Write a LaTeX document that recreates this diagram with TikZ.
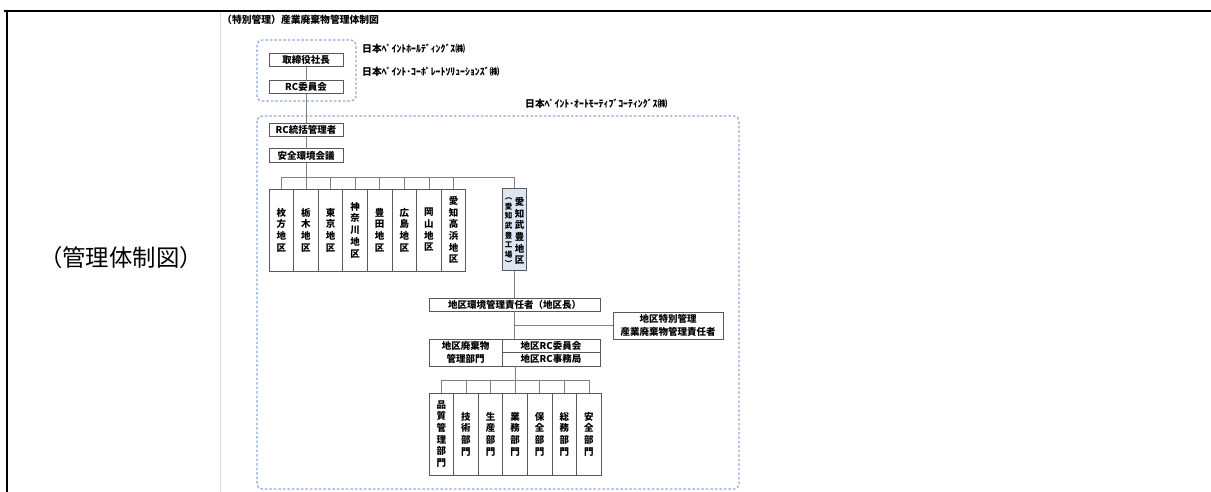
\documentclass[tikz,border=0pt]{standalone}
\usepackage{fontspec}
\newfontfamily\jp{Noto Sans CJK JP}
\usetikzlibrary{positioning}
\definecolor{grpblue}{RGB}{142,169,219}
\definecolor{boxgray}{RGB}{89,89,89}
\definecolor{linegray}{RGB}{128,128,128}
\definecolor{aichiblue}{RGB}{220,230,242}

\begin{document}
\begin{tikzpicture}[x=1pt, y=-1pt,
        box/.style = {draw=boxgray, line width=0.8pt, inner sep=0pt, minimum height=13.5pt, align=center,
                      font={\jp\bfseries\fontsize{9.5}{13.5}\selectfont}},
        vbox/.style = {draw=boxgray, line width=0.8pt, inner sep=0pt, minimum width=24.6pt, minimum height=82pt, align=center,
                       font={\jp\bfseries\fontsize{9.5}{11.7}\selectfont}},
        group/.style = {draw=grpblue, line width=1.3pt, dash pattern=on 2.5pt off 2pt, rounded corners=5pt},
        link/.style = {draw=linegray, line width=0.8pt},
        corp/.style = {anchor=west, inner sep=0pt, font={\jp\bfseries\fontsize{9.8}{11}\selectfont}}
        ]
        \useasboundingbox (0,0) rectangle (1211,492);

        % frame of the table cell
        \draw[gray!30, line width=0.8pt] (220.5,11) -- (220.5,492);
        \draw[black, line width=2.3pt] (4,11) -- (1211,11);
        \draw[black, line width=2.3pt] (7,10) -- (7,492);
        \node (caption) at (121,258) {\jp\fontsize{23.4}{26}\selectfont （管理体制図）};
        \node[corp] (title) at (222,20) {（特別管理）産業廃棄物管理体制図};

        % groups
        \draw[group] (257,40) rectangle (356,101);
        \draw[group] (257,116) rectangle (739,489);
        \node[corp] (hd) at (362,49) {日本ﾍﾟｲﾝﾄﾎｰﾙﾃﾞｨﾝｸﾞｽ㈱};
        \node[corp] (cs) at (362,72) {日本ﾍﾟｲﾝﾄ･ｺｰﾎﾟﾚｰﾄｿﾘｭｰｼｮﾝｽﾞ㈱};
        \node[corp] (aoc) at (525,104) {日本ﾍﾟｲﾝﾄ･ｵｰﾄﾓｰﾃｨﾌﾞｺｰﾃｨﾝｸﾞｽ㈱};

        \node[box, minimum width=74pt] (ceo) at (306,60) {取締役社長};
        \node[box, minimum width=74pt] (rc) at (306,87) {RC委員会};
        \node[box, minimum width=74pt] (rcmgr) at (306,130) {RC統括管理者};
        \node[box, minimum width=74pt] (safety) at (306,155.5) {安全環境会議};
        \coordinate (bus1) at (306,177);

        % districts
        \node[vbox] (hirakata) at (281.3,230) {枚\\方\\地\\区};
        \node[vbox] (tochigi) at (305.9,230) {栃\\木\\地\\区};
        \node[vbox] (tokyo) at (330.5,230) {東\\京\\地\\区};
        \node[vbox] (kanagawa) at (355.1,230) {神\\奈\\川\\地\\区};
        \node[vbox] (toyota) at (379.7,230) {豊\\田\\地\\区};
        \node[vbox] (hiroshima) at (404.3,230) {広\\島\\地\\区};
        \node[vbox] (okayama) at (428.9,230) {岡\\山\\地\\区};
        \node[vbox] (takahama) at (453.5,230) {愛\\知\\高\\浜\\地\\区};
        \node[vbox, fill=aichiblue] (aichi) at (514.5,229.5) {};
        \node[inner sep=0pt, align=center, font={\jp\bfseries\fontsize{9.5}{11.6}\selectfont}] (aichiname) at (519.5,231) {愛\\知\\武\\豊\\地\\区};
        \node[inner sep=0pt, align=center, font={\jp\bfseries\fontsize{7.5}{9.6}\selectfont}] (aichiplant) at (508.5,232.5) {︵\\愛\\知\\武\\豊\\工\\場\\︶};

        \draw[link] (ceo) -- (rc);
        \draw[link] (rc) -- (rcmgr);
        \draw[link] (rcmgr) -- (safety);
        \draw[link] (safety) -- (bus1);
        \draw[link] (hirakata) -- (hirakata |- bus1) -| (aichi);
        \draw[link] (tochigi) -- (tochigi |- bus1);
        \draw[link] (tokyo) -- (tokyo |- bus1);
        \draw[link] (kanagawa) -- (kanagawa |- bus1);
        \draw[link] (toyota) -- (toyota |- bus1);
        \draw[link] (hiroshima) -- (hiroshima |- bus1);
        \draw[link] (okayama) -- (okayama |- bus1);
        \draw[link] (takahama) -- (takahama |- bus1);

        % district management
        \node[box, minimum width=171pt] (distmgr) at (514.5,305) {地区環境管理責任者（地区長）};
        \node[box, minimum width=110pt, minimum height=27pt, font={\jp\bfseries\fontsize{9.5}{12.5}\selectfont}] (special) at (668,325.5) {地区特別管理\\産業廃棄物管理責任者};
        \node[box, minimum width=73pt, minimum height=27pt, font={\jp\bfseries\fontsize{9.5}{12.5}\selectfont}] (waste) at (465.5,352.5) {地区廃棄物\\管理部門};
        \node[box, minimum width=98pt] (rccomm) at (551,345.75) {地区RC委員会};
        \node[box, minimum width=98pt] (rcoffice) at (551,359.25) {地区RC事務局};
        \coordinate (bus2) at (515,380);

        \draw[link] (aichi) -- (distmgr);
        \draw[link] (distmgr) -- (distmgr |- rccomm.north);
        \draw[link] (distmgr |- special) -- (special);

        % departments
        \node[vbox] (quality) at (441.3,434) {品\\質\\管\\理\\部\\門};
        \node[vbox] (tech) at (465.9,434) {技\\術\\部\\門};
        \node[vbox] (prod) at (490.5,434) {生\\産\\部\\門};
        \node[vbox] (gyomu) at (515.1,434) {業\\務\\部\\門};
        \node[vbox] (maint) at (539.7,434) {保\\全\\部\\門};
        \node[vbox] (general) at (564.3,434) {総\\務\\部\\門};
        \node[vbox] (safedept) at (588.9,434) {安\\全\\部\\門};

        \draw[link] (gyomu) -- (gyomu |- rcoffice.south);
        \draw[link] (quality) -- (quality |- bus2) -| (safedept);
        \draw[link] (tech) -- (tech |- bus2);
        \draw[link] (prod) -- (prod |- bus2);
        \draw[link] (maint) -- (maint |- bus2);
        \draw[link] (general) -- (general |- bus2);
    \end{tikzpicture}
\end{document}
